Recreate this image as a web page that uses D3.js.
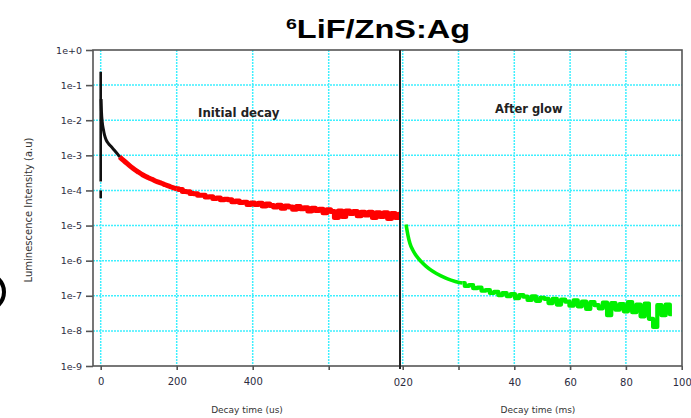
<!DOCTYPE html>
<html>
<head>
<meta charset="utf-8">
<script src="https://cdn.jsdelivr.net/npm/d3@7"></script>
<style>
  body { margin: 0; background: #fff; }
  svg { display: block; font-family: 'DejaVu Sans', sans-serif; }
</style>
</head>
<body>
<div id="chart"></div>
<script>
// Intensity ticks (decades)
const yTicks = [1, 1e-1, 1e-2, 1e-3, 1e-4, 1e-5, 1e-6, 1e-7, 1e-8, 1e-9]
const yTickLabels = ['1e+0', '1e-1', '1e-2', '1e-3', '1e-4', '1e-5', '1e-6', '1e-7', '1e-8', '1e-9']

// Initial decay panel (time in us)
const usTicks = [0, 200, 400, 600]
const usTickLabels = ['0', '200', '400', '']
const spikeTimes = [0, 0]
const spikeValues = [2.4e-1, 1.8e-4]
const spikeTailTimes = [0, 0]
const spikeTailValues = [1.0e-4, 6.0e-5]
const blackTimes = [1, 2, 4, 7, 10, 14, 20, 28, 36, 44, 50]
const blackValues = [4e-2, 1.8e-2, 9e-3, 5.5e-3, 3.8e-3, 2.8e-3, 2.2e-3, 1.75e-3, 1.4e-3, 1.1e-3, 9.0e-4]
const redSmoothTimes = [50, 60, 70, 80, 90, 100, 110, 120, 130, 140, 150, 160, 170, 180, 190, 200]
const redSmoothValues = [9.0e-4, 7.2e-4, 5.8e-4, 4.7e-4, 3.9e-4, 3.3e-4, 2.8e-4, 2.45e-4, 2.2e-4, 1.95e-4, 1.75e-4, 1.6e-4, 1.45e-4, 1.32e-4, 1.2e-4, 1.12e-4]
const redNoisyTimes = [
  200, 210, 220, 230, 240, 250, 260, 270, 280, 290, 300, 310, 320, 330, 340,
  350, 360, 370, 380, 390, 400, 410, 420, 430, 440, 450, 460, 470, 480, 490,
  500, 510, 520, 530, 540, 550, 560, 570, 580, 590, 600, 610, 620, 630, 640,
  650, 660, 670, 680, 690, 700, 710, 720, 730, 740, 750, 760, 770, 780, 790
]
const redNoisyValues = [
  1.12e-4, 1.06e-4, 9.4e-5, 9.2e-5, 8.2e-5, 8.1e-5, 7.3e-5, 7.3e-5, 6.5e-5, 6.6e-5, 5.9e-5, 6.1e-5, 5.4e-5, 5.6e-5, 5.4e-5,
  4.8e-5, 5.0e-5, 4.5e-5, 4.6e-5, 4.0e-5, 4.4e-5, 4.0e-5, 4.3e-5, 3.6e-5, 4.1e-5, 3.7e-5, 3.4e-5, 3.8e-5, 3.1e-5, 3.6e-5,
  3.4e-5, 2.9e-5, 3.5e-5, 3.0e-5, 3.2e-5, 2.6e-5, 3.1e-5, 2.7e-5, 2.9e-5, 2.3e-5, 2.8e-5, 2.5e-5, 1.7e-5, 2.6e-5, 1.8e-5,
  2.6e-5, 2.2e-5, 2.5e-5, 1.9e-5, 2.4e-5, 2.0e-5, 2.4e-5, 1.7e-5, 2.3e-5, 1.8e-5, 2.3e-5, 1.6e-5, 2.2e-5, 1.7e-5, 2.1e-5
]

// After glow panel (time in ms)
const msTicks = [0, 20, 40, 60, 80, 100]
const msTickLabels = ['020', '', '40', '60', '80', '100']
const greenSmoothTimes = [1.2, 1.9, 2.6, 3.7, 4.8, 6.6, 8.4, 10.9, 13.7, 17.3, 20.2, 21.5]
const greenSmoothValues = [1.07e-5, 5.2e-6, 3.1e-6, 1.95e-6, 1.4e-6, 9.5e-7, 6.9e-7, 4.9e-7, 3.7e-7, 2.8e-7, 2.4e-7, 2.3e-7]
const greenNoisyTimes = [
  21.5, 23, 24.5, 26, 27.5, 29, 30.5, 32, 33.5, 35, 36.5, 38, 39.5, 41, 42.5,
  44, 45.5, 47, 48.5, 50, 51.5, 53, 54.5, 56, 57.5, 59, 60.5, 62, 63.5, 65,
  66.5, 68, 69.5, 71, 72.5, 74, 75.5, 77, 78.5, 80, 81.5, 83, 84.5, 86, 87.5,
  89, 90.5, 92, 93.5, 95, 96.5
]
const greenNoisyValues = [
  2.3e-7, 1.9e-7, 2.0e-7, 1.65e-7, 1.7e-7, 1.4e-7, 1.45e-7, 1.2e-7, 1.3e-7, 1.05e-7, 1.2e-7, 9.8e-8, 1.12e-7, 8.6e-8, 1.05e-7,
  9.4e-8, 7.6e-8, 9.6e-8, 7.2e-8, 8.8e-8, 8.2e-8, 6.2e-8, 8.2e-8, 5.6e-8, 7.8e-8, 6.8e-8, 5.2e-8, 7.4e-8, 5.0e-8, 6.8e-8,
  4.2e-8, 6.6e-8, 5.4e-8, 4.4e-8, 6.4e-8, 2.8e-8, 6.2e-8, 4.0e-8, 5.8e-8, 3.6e-8, 6.6e-8, 3.4e-8, 5.6e-8, 2.6e-8, 6.0e-8,
  2.2e-8, 1.3e-8, 5.4e-8, 2.8e-8, 5.6e-8, 3.0e-8
]

const width = 691
const height = 418
const plot = { left: 93, right: 682, top: 50, bottom: 366, split: 400 }

const svg = d3.select('#chart')
  .append('svg')
  .attr('width', width)
  .attr('height', height)

// Scales
const y = d3.scaleLog().domain([1, 1e-9]).range([plot.top, plot.bottom])
const xUs = d3.scaleLinear().domain([0, 200]).range([100.7, 176.7])
const xMs = d3.scaleLinear().domain([0, 100]).range([402.7, 681.7])

const zip = (xs, ys) => xs.map((t, i) => ({ t, v: ys[i] }))

// Title
const title = svg.append('text')
  .attr('transform', 'translate(378, 38) scale(1.3, 1)')
  .attr('text-anchor', 'middle')
  .style('font-family', "'Liberation Sans', Arial, sans-serif")
  .style('font-weight', 'bold')
  .style('font-size', '25px')
  .attr('fill', '#000')
title.append('tspan').attr('font-size', '15px').attr('dy', -9).text('6')
title.append('tspan').attr('dy', 9).text('LiF/ZnS:Ag')

// Gridlines - horizontal across both panels
svg.append('g')
  .selectAll('line')
  .data(yTicks.slice(1, -1))
  .join('line')
  .attr('x1', plot.left).attr('x2', plot.right)
  .attr('y1', d => y(d)).attr('y2', d => y(d))
  .attr('stroke', '#3ef0ff')
  .attr('stroke-width', 1.5)
  .attr('stroke-dasharray', '2,1')

// Vertical gridlines
const vGrid = svg.append('g')
vGrid.selectAll('line.us')
  .data(usTicks)
  .join('line')
  .attr('class', 'us')
  .attr('x1', d => xUs(d)).attr('x2', d => xUs(d))
  .attr('y1', plot.top).attr('y2', plot.bottom)
vGrid.selectAll('line.ms')
  .data(msTicks.slice(0, -1))
  .join('line')
  .attr('class', 'ms')
  .attr('x1', d => xMs(d)).attr('x2', d => xMs(d))
  .attr('y1', plot.top).attr('y2', plot.bottom)
vGrid.selectAll('line')
  .attr('stroke', '#3ef0ff')
  .attr('stroke-width', 1.5)
  .attr('stroke-dasharray', '2,1')

// Clip paths for the two panels
svg.append('clipPath').attr('id', 'clip-us')
  .append('rect')
  .attr('x', plot.left).attr('y', plot.top)
  .attr('width', plot.split - plot.left).attr('height', plot.bottom - plot.top)
svg.append('clipPath').attr('id', 'clip-ms')
  .append('rect')
  .attr('x', plot.split).attr('y', plot.top)
  .attr('width', plot.right - plot.split).attr('height', plot.bottom - plot.top)

const usSmooth = d3.line().curve(d3.curveMonotoneX).x(d => xUs(d.t)).y(d => y(d.v))
const usNoisy = d3.line().curve(d3.curveStep).x(d => xUs(d.t)).y(d => y(d.v))
const msSmooth = d3.line().curve(d3.curveMonotoneX).x(d => xMs(d.t)).y(d => y(d.v))
const msNoisy = d3.line().curve(d3.curveStep).x(d => xMs(d.t)).y(d => y(d.v))

// Red - initial decay tail
const red = svg.append('g')
  .attr('fill', 'none')
  .attr('stroke', '#ff0000')
  .attr('stroke-width', 5)
  .attr('stroke-linejoin', 'round')
  .attr('clip-path', 'url(#clip-us)')
red.append('path').datum(zip(redSmoothTimes, redSmoothValues)).attr('d', usSmooth)
red.append('path').datum(zip(redNoisyTimes, redNoisyValues)).attr('d', usNoisy)

// Black - prompt spike and early decay
const black = svg.append('g')
  .attr('fill', 'none')
  .attr('stroke', '#111')
  .attr('stroke-width', 2.6)
  .attr('clip-path', 'url(#clip-us)')
black.append('path').datum(zip(spikeTimes, spikeValues)).attr('d', usSmooth)
black.append('path').datum(zip(spikeTailTimes, spikeTailValues)).attr('d', usSmooth)
black.append('path').datum(zip(blackTimes, blackValues))
  .attr('stroke-width', 3)
  .attr('stroke-linejoin', 'round')
  .attr('d', usSmooth)

// Green - after glow
const green = svg.append('g')
  .attr('fill', 'none')
  .attr('stroke', '#00f000')
  .attr('stroke-width', 3.6)
  .attr('stroke-linejoin', 'round')
  .attr('clip-path', 'url(#clip-ms)')
green.append('path').datum(zip(greenSmoothTimes, greenSmoothValues)).attr('d', msSmooth)
green.append('path').datum(zip(greenNoisyTimes, greenNoisyValues))
  .attr('stroke-width', 4.2)
  .attr('d', msNoisy)

// Frame
svg.append('rect')
  .attr('x', plot.left).attr('y', plot.top)
  .attr('width', plot.right - plot.left).attr('height', plot.bottom - plot.top)
  .attr('fill', 'none')
  .attr('stroke', '#555')
  .attr('stroke-width', 1.6)

// Panel divider
svg.append('line')
  .attr('x1', plot.split).attr('x2', plot.split)
  .attr('y1', plot.top).attr('y2', plot.bottom + 3)
  .attr('stroke', '#222')
  .attr('stroke-width', 2)

// Left axis - intensity
const yAxis = svg.append('g')
  .attr('transform', `translate(${plot.left}, 0)`)
  .call(
    d3.axisLeft(y)
      .tickValues(yTicks)
      .tickSize(7)
      .tickPadding(4)
      .tickFormat((d, i) => yTickLabels[i])
  )
yAxis.select('.domain').remove()
yAxis.selectAll('line').attr('stroke', '#555').attr('stroke-width', 1.6)
yAxis.selectAll('text')
  .attr('fill', '#2b2b40')
  .style('font-size', '9.5px')
  .style('font-family', "'DejaVu Sans', sans-serif")

// Bottom axis - us
const xAxisUs = svg.append('g')
  .attr('transform', `translate(0, ${plot.bottom})`)
  .call(
    d3.axisBottom(xUs)
      .tickValues(usTicks)
      .tickSize(4)
      .tickPadding(8)
      .tickFormat((d, i) => usTickLabels[i])
  )
// Bottom axis - ms
const xAxisMs = svg.append('g')
  .attr('transform', `translate(0, ${plot.bottom})`)
  .call(
    d3.axisBottom(xMs)
      .tickValues(msTicks)
      .tickSize(4)
      .tickPadding(9)
      .tickFormat((d, i) => msTickLabels[i])
  )
for (const ax of [xAxisUs, xAxisMs]) {
  ax.select('.domain').remove()
  ax.selectAll('line').attr('stroke', '#555').attr('stroke-width', 1.6)
  ax.selectAll('text')
    .attr('fill', '#2b2b40')
    .style('font-size', '10px')
    .style('font-family', "'DejaVu Sans', sans-serif")
}

// Axis titles
svg.append('text')
  .attr('x', 247).attr('y', 413)
  .attr('text-anchor', 'middle')
  .style('font-size', '9px')
  .attr('fill', '#333')
  .text('Decay time (us)')
svg.append('text')
  .attr('x', 538).attr('y', 413)
  .attr('text-anchor', 'middle')
  .style('font-size', '9px')
  .attr('fill', '#333')
  .text('Decay time (ms)')
svg.append('text')
  .attr('transform', 'translate(32, 210) rotate(-90)')
  .attr('text-anchor', 'middle')
  .style('font-size', '10px')
  .attr('fill', '#333')
  .text('Luminescence Intensity (a.u)')

// Panel annotations
svg.append('text')
  .attr('x', 198).attr('y', 117)
  .style('font-size', '11.8px')
  .style('font-weight', 'bold')
  .attr('fill', '#222')
  .text('Initial decay')
svg.append('text')
  .attr('x', 495).attr('y', 113)
  .style('font-size', '11.5px')
  .style('font-weight', 'bold')
  .attr('fill', '#222')
  .text('After glow')

// Cut-off panel marker at the left edge
svg.append('circle')
  .attr('cx', -14).attr('cy', 292).attr('r', 18)
  .attr('fill', 'none')
  .attr('stroke', '#000')
  .attr('stroke-width', 4)
</script>
</body>
</html>
